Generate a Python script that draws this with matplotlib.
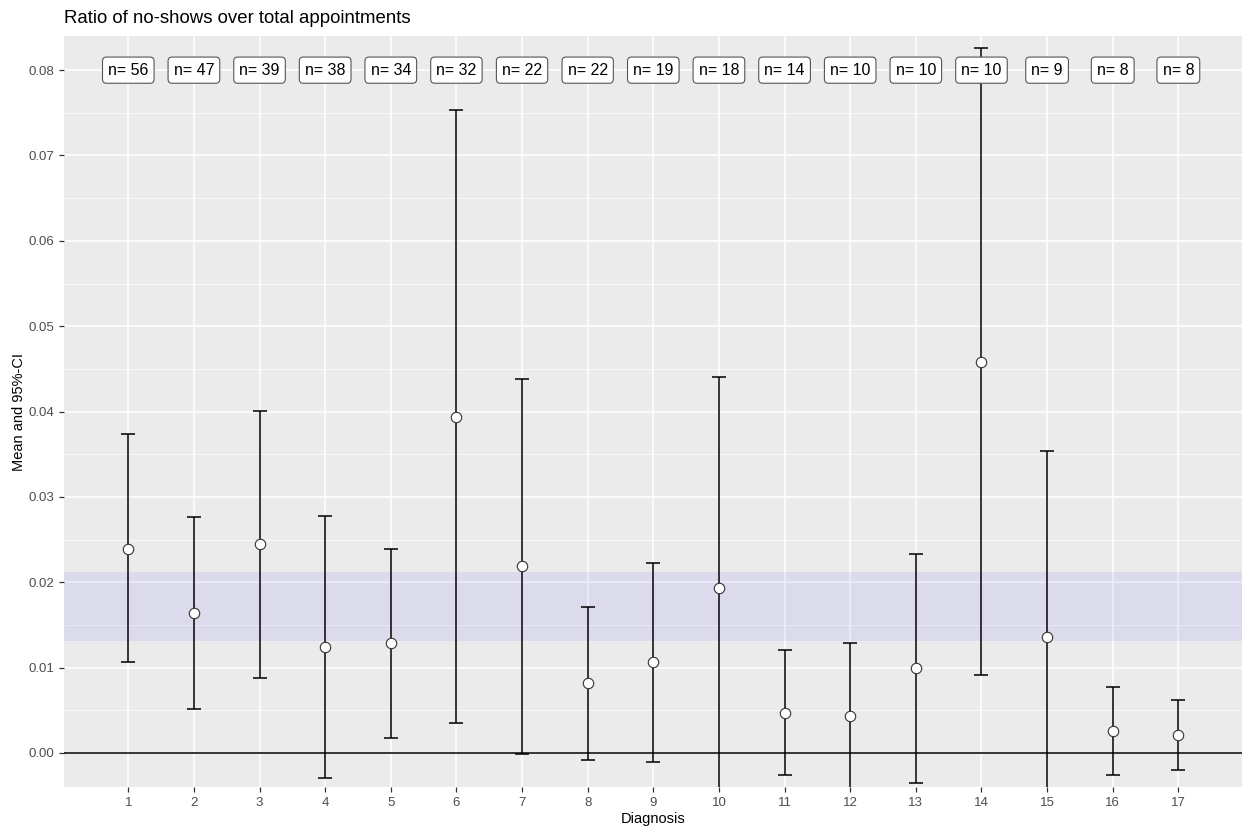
"""
No-show ratio per diagnosis: mean and 95% CI, with group sizes on top.
Writes out.png in the current folder.
"""

import matplotlib
matplotlib.use("Agg")  # no display needed
import matplotlib.pyplot as plt
from matplotlib.ticker import MultipleLocator

OUTPUT_PATH = "out.png"

# --- Data ---
diagnosis = list(range(1, 18))
n_counts  = [56, 47, 39, 38, 34, 32, 22, 22, 19, 18, 14, 10, 10, 10, 9, 8, 8]
means     = [0.0239, 0.0164, 0.0245, 0.0124, 0.0129, 0.0394, 0.0219, 0.0082, 0.0106,
             0.0193, 0.0047, 0.0043, 0.0100, 0.0458, 0.0136, 0.0026, 0.0021]
ci_low    = [0.0106, 0.0051, 0.0088, -0.0030, 0.0018, 0.0035, -0.0001, -0.0008, -0.0011,
             -0.0055, -0.0026, -0.0043, -0.0035, 0.0091, -0.0082, -0.0026, -0.0020]
ci_high   = [0.0374, 0.0276, 0.0401, 0.0278, 0.0239, 0.0753, 0.0438, 0.0171, 0.0223,
             0.0441, 0.0121, 0.0129, 0.0233, 0.0826, 0.0354, 0.0077, 0.0062]
band_low, band_high = 0.0131, 0.0212
label_y = 0.08

PANEL = "#EBEBEB"
TICK_GREY = "#4D4D4D"

plt.rcParams["font.family"] = ["Liberation Sans", "DejaVu Sans"]


def main():
    fig = plt.figure(figsize=(12.42, 8.30), dpi=100)
    ax = fig.add_axes([0.0515, 0.0518, 0.9485, 0.9048])
    ax.set_facecolor(PANEL)
    for spine in ax.spines.values():
        spine.set_visible(False)

    # grid, ggplot style
    ax.set_axisbelow(True)
    ax.yaxis.set_major_locator(MultipleLocator(0.01))
    ax.yaxis.set_minor_locator(MultipleLocator(0.005))
    ax.set_xticks(diagnosis)
    ax.grid(which="major", color="white", linewidth=1.1)
    ax.grid(which="minor", axis="y", color="white", linewidth=0.5)

    ax.set_xlim(0.02, 17.97)
    ax.set_ylim(-0.004, 0.084)

    # reference band and zero line
    ax.axhspan(band_low, band_high, color="blue", alpha=0.065, linewidth=0, zorder=1.5)
    ax.axhline(0, color="black", linewidth=1.1, zorder=2)

    # error bars + means
    yerr = [[m - lo for m, lo in zip(means, ci_low)],
            [hi - m for m, hi in zip(means, ci_high)]]
    ax.errorbar(diagnosis, means, yerr=yerr, fmt="none", ecolor="black",
                elinewidth=1.1, capsize=5, capthick=1.1, zorder=3)
    ax.plot(diagnosis, means, "o", markersize=7.5, markerfacecolor="white",
            markeredgecolor="#333333", markeredgewidth=0.8, zorder=4)

    # group sizes
    for x, n in zip(diagnosis, n_counts):
        ax.text(x, label_y, f"n= {n}", ha="center", va="center", fontsize=11.5,
                color="black", zorder=5,
                bbox=dict(boxstyle="round,pad=0.35,rounding_size=0.25",
                          facecolor="white", edgecolor="#555555", linewidth=0.8))

    ax.tick_params(axis="both", which="major", length=3.5, width=0.9,
                   color="#333333", labelcolor=TICK_GREY, labelsize=9.5)
    ax.tick_params(axis="y", which="minor", length=0)
    ax.yaxis.set_major_formatter(lambda v, pos: f"{v:.2f}")

    ax.set_xlabel("Diagnosis", fontsize=10.5, labelpad=2)
    ax.set_ylabel("Mean and 95%-CI", fontsize=10.5, labelpad=2)
    fig.text(0.0515, 0.9775, "Ratio of no-shows over total appointments",
             fontsize=13.4, ha="left", va="center")

    fig.savefig(OUTPUT_PATH, dpi=100)


if __name__ == "__main__":
    main()
